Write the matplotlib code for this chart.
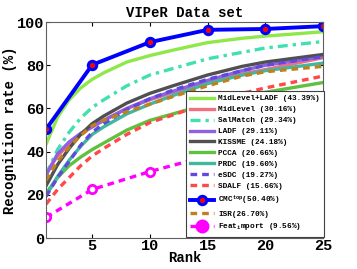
import numpy as np
import matplotlib.pyplot as plt

plt.rcParams['font.family'] = ['Liberation Mono', 'DejaVu Sans Mono']
plt.rcParams['font.weight'] = 'bold'
plt.rcParams['mathtext.fontset'] = 'custom'
plt.rcParams['mathtext.rm'] = 'Liberation Mono:bold'
plt.rcParams['mathtext.it'] = 'Liberation Mono:bold'

ranks = [1, 2, 3, 4, 5, 6, 8, 10, 12, 15, 18, 20, 25]
midlevel_ladf = [43.4, 56, 64, 69.5, 73.5, 76.5, 81.5, 84.5, 87, 90.5, 92.5, 93.5, 95.5]
midlevel = [30.2, 38, 43.5, 48, 51.5, 54.5, 60, 64, 67.5, 72, 76, 78, 83.5]
salmatch = [29.3, 41, 49, 55.5, 60.5, 64, 70.5, 75.5, 78.5, 83, 86, 88, 91]
ladf = [29.1, 39, 44.5, 48.5, 51.5, 54.5, 60, 64.5, 68, 73, 77.5, 80, 84]
kissme = [24.2, 34, 41.5, 48, 53, 56.5, 62.5, 67, 70.5, 75.5, 79.5, 81.5, 85]
pcca = [20.7, 28, 33.5, 37.5, 41, 44, 50, 54.5, 57.5, 62, 65.5, 67.5, 72]
prdc = [19.6, 28.5, 36, 42.5, 48, 51.5, 57.5, 62, 66, 71.5, 75.5, 77.5, 81]
esdc = [19.3, 28, 35.5, 43, 49, 53, 59.5, 64.5, 68.5, 73.5, 77.5, 80, 84]
sdalf = [15.7, 22.5, 28, 33.5, 38, 41.5, 48, 53.5, 57, 62.5, 67, 69.5, 75]
cmc_top = [50.4, 80.2, 90.7, 96.4, 96.8, 98.1]
cmc_ranks = [1, 5, 10, 15, 20, 25]
isr = [26.7, 35.5, 42, 47.5, 52, 54.5, 58.5, 62, 65.5, 70.5, 75, 77, 79.5]
feat_ranks = [1, 5, 10, 15, 20, 25]
feat_import = [9.56, 22.5, 30.8, 38, 47, 57]

fig = plt.figure(figsize=(3.57, 2.69), dpi=100)
ax = fig.add_axes([0.129, 0.115, 0.776, 0.803])

lw = 2.4
ax.plot(ranks, midlevel_ladf, color='#8ee84a', lw=lw, label='MidLevel+LADF (43.39%)')
ax.plot(ranks, midlevel, color='#f07080', lw=lw, label='MidLevel (30.16%)')
ax.plot(ranks, salmatch, color='#40e0b0', lw=lw, ls=(0, (3, 1.5, 1, 1.5)), label='SalMatch (29.34%)')
ax.plot(ranks, ladf, color='#9060e0', lw=lw, label='LADF (29.11%)')
ax.plot(ranks, kissme, color='#505050', lw=lw, label='KISSME (24.18%)')
ax.plot(ranks, pcca, color='#60c040', lw=lw, label='PCCA (20.66%)')
ax.plot(ranks, prdc, color='#40b8a0', lw=lw, label='PRDC (19.60%)')
ax.plot(ranks, esdc, color='#6048e0', lw=lw, ls=(0, (2, 1.5)), label='eSDC (19.27%)')
ax.plot(ranks, sdalf, color='#ff4848', lw=lw, ls=(0, (2, 1.5)), label='SDALF (15.66%)')
ax.plot(cmc_ranks, cmc_top, color='#0000ff', lw=2.8, marker='o', ms=6,
        mfc='red', mec='#0000ff', mew=2.2, label='CMC$^{top}$(50.40%)')
ax.plot(ranks, isr, color='#c08020', lw=lw, ls=(0, (2, 1.5)), label='ISR(26.70%)')
ax.plot(feat_ranks, feat_import, color='#ff00ff', lw=lw, ls=(0, (2, 1.5)), marker='o', ms=6,
        mfc='white', mec='#ff00ff', mew=2.0, label='Feat$_i$mport (9.56%)')

ax.set_xlim(1, 25)
ax.set_ylim(0, 100)
ax.set_xticks([5, 10, 15, 20, 25])
ax.set_yticks([0, 20, 40, 60, 80, 100])
ax.tick_params(direction='in', labelsize=11, length=3, pad=1, top=True, right=True)
for s in ax.spines.values():
    s.set_color('#606060')
ax.set_xlabel('Rank', fontsize=10, fontweight='bold', labelpad=-2)
ax.set_ylabel('Recognition rate (%)', fontsize=10, fontweight='bold', labelpad=0)
ax.set_title('VIPeR Data set', fontsize=10, fontweight='bold', pad=4)

leg = ax.legend(loc='lower right', fontsize=5.6, fancybox=False, framealpha=1,
                edgecolor='#404040', handlelength=3.0, labelspacing=0.45,
                borderpad=0.55, handletextpad=0.6, borderaxespad=0.2,
                bbox_to_anchor=(1.01, 0.0))
leg.get_frame().set_linewidth(0.8)
for h in leg.legend_handles:
    if h.get_label().startswith('Feat'):
        h.set_markerfacecolor('#ff00ff')
        h.set_markersize(8)

fig.savefig('out.png', dpi=100)
